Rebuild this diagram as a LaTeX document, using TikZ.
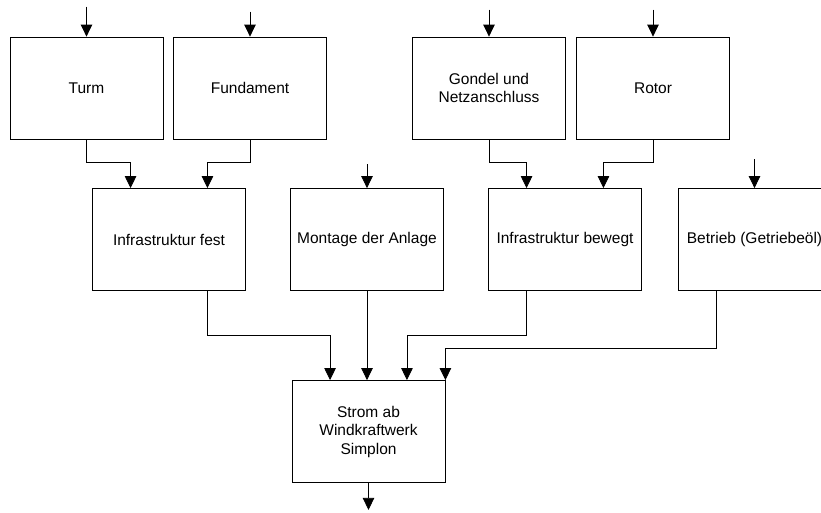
\documentclass[tikz,border=0pt]{standalone}
\usepackage{fontspec}
\setmainfont{Liberation Sans}
\usepackage{tikz}
\usetikzlibrary{arrows.meta,calc}

\tikzset{
  blk/.style={draw=black, fill=white, line width=0.8pt,
              minimum width=153pt, minimum height=102pt,
              align=center, inner sep=2pt,
              font=\fontsize{15.5}{18.5}\selectfont},
  flow/.style={-{Triangle[length=12pt,width=11.5pt]}, draw=black, line width=0.8pt},
}

\begin{document}
\begin{tikzpicture}[x=1pt,y=-1pt]

  \useasboundingbox (0,0) rectangle (821,512);
  \clip (0,0) rectangle (821,512);

  %% Row 1: components
  \node[blk] (turm)  at (86.5,88) {Turm};
  \node[blk] (fund)  at (250,88)  {Fundament};
  \node[blk] (gond)  at (489,88)  {Gondel und\\Netzanschluss};
  \node[blk] (rotor) at (653,88)  {Rotor};

  %% Row 2: stages
  \node[blk] (infix) at (169,239.5)   {Infrastruktur fest};
  \node[blk] (mont)  at (367,239.5)   {Montage der Anlage};
  \node[blk] (inbew) at (565,239.5)   {Infrastruktur bewegt};
  \node[blk] (betr)  at (754.5,239.5) {Betrieb (Getriebeöl)};

  %% Row 3: result
  \node[blk] (strom) at (368.5,431.5) {Strom ab\\Windkraftwerk\\Simplon};

  %% docking points
  \coordinate (infix-a) at ($(infix.north west)!0.25!(infix.north east)$);
  \coordinate (infix-b) at ($(infix.north west)!0.75!(infix.north east)$);
  \coordinate (inbew-a) at ($(inbew.north west)!0.25!(inbew.north east)$);
  \coordinate (inbew-b) at ($(inbew.north west)!0.75!(inbew.north east)$);
  \coordinate (infix-o) at ($(infix.south west)!0.75!(infix.south east)$);
  \coordinate (inbew-o) at ($(inbew.south west)!0.25!(inbew.south east)$);
  \coordinate (betr-o)  at ($(betr.south west)!0.25!(betr.south east)$);
  \coordinate (strom-a) at ($(strom.north west)!0.25!(strom.north east)$);
  \coordinate (strom-c) at ($(strom.north west)!0.75!(strom.north east)$);

  %% inputs from outside
  \foreach \n/\d in {turm/30,fund/25,gond/27,rotor/27,mont/24,betr/29}
    \draw[flow] (\n.north) ++(0,-\d) coordinate (\n-in) -- (\n.north);

  %% row 1 -> row 2
  \draw[flow] (turm.south)  -- ++(0,23) -| (infix-a);
  \draw[flow] (fund.south)  -- ++(0,23) -| (infix-b);
  \draw[flow] (gond.south)  -- ++(0,23) -| (inbew-a);
  \draw[flow] (rotor.south) -- ++(0,23) -| (inbew-b);

  %% row 2 -> row 3
  \draw[flow] (infix-o) -- ++(0,44) -| (strom-a);
  \draw[flow] (mont.south) -- (mont.south |- strom.north);
  \draw[flow] (inbew-o) -- ++(0,44) -| (strom-c);
  \draw[flow] (betr-o)  -- ++(0,57) -| (strom.north east);

  %% output
  \draw[flow] (strom.south) -- ++(0,27) coordinate (strom-out);

\end{tikzpicture}
\end{document}
